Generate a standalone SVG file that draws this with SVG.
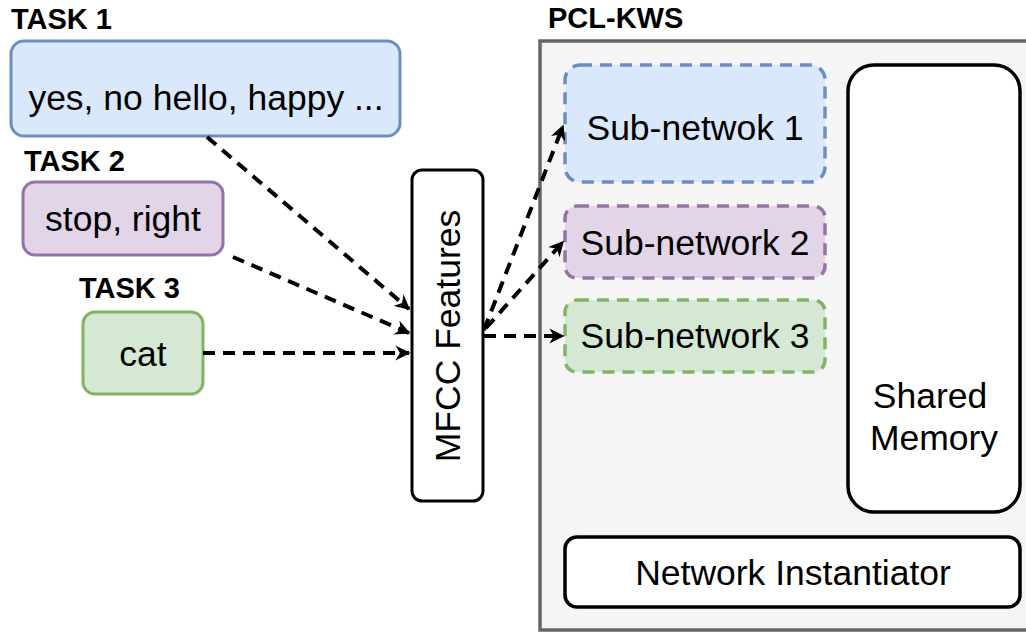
<svg xmlns="http://www.w3.org/2000/svg" width="1026" height="632" viewBox="0 0 1026 632">
<style>
text{font-family:"Liberation Sans",Arial,sans-serif;fill:#000}
.lbl{font-size:35.5px}
.title{font-size:29px;font-weight:bold}
.conn{fill:none;stroke:#000;stroke-width:4;stroke-dasharray:12 8}
.sub{stroke-width:3.5;stroke-dasharray:12 8}
</style>
<defs>
<marker id="arr" viewBox="0 0 10 10" refX="9" refY="5" markerWidth="3.8" markerHeight="3.8" orient="auto" markerUnits="strokeWidth">
<path d="M0,0 L10,5 L0,10 L3,5 Z" fill="#000"/>
</marker>
</defs>
<rect width="1026" height="632" fill="#fff"/>
<g id="pcl-kws">
<rect x="540" y="41" width="500" height="589" fill="#f5f5f5" stroke="#666" stroke-width="3.5"/>
<text class="title" x="548" y="28">PCL-KWS</text>
</g>
<g id="task1">
<text class="title" x="11" y="29">TASK 1</text>
<rect x="11" y="41" width="389" height="95" rx="13" fill="#dae8fc" stroke="#6c8ebf" stroke-width="3"/>
<text class="lbl" x="206" y="110" text-anchor="middle">yes, no hello, happy ...</text>
</g>
<g id="task2">
<text class="title" x="24" y="171">TASK 2</text>
<rect x="23" y="182" width="200" height="73" rx="12" fill="#e1d5e7" stroke="#9673a6" stroke-width="3"/>
<text class="lbl" x="123" y="231" text-anchor="middle">stop, right</text>
</g>
<g id="task3">
<text class="title" x="79" y="298">TASK 3</text>
<rect x="83" y="312" width="120" height="82" rx="12" fill="#d5e8d4" stroke="#82b366" stroke-width="3"/>
<text class="lbl" x="143" y="366" text-anchor="middle">cat</text>
</g>
<g id="mfcc">
<rect x="412" y="170" width="71" height="331" rx="10" fill="#fff" stroke="#000" stroke-width="3"/>
<text class="lbl" transform="translate(460,336) rotate(-90)" text-anchor="middle">MFCC Features</text>
</g>
<g id="sub1">
<rect class="sub" x="565" y="65" width="260" height="117" rx="15" fill="#dae8fc" stroke="#6c8ebf"/>
<text class="lbl" x="695" y="140" text-anchor="middle">Sub-netwok 1</text>
</g>
<g id="sub2">
<rect class="sub" x="565" y="206" width="260" height="72" rx="12" fill="#e1d5e7" stroke="#9673a6"/>
<text class="lbl" x="695" y="255" text-anchor="middle">Sub-network 2</text>
</g>
<g id="sub3">
<rect class="sub" x="565" y="300" width="260" height="72" rx="12" fill="#d5e8d4" stroke="#82b366"/>
<text class="lbl" x="695" y="348" text-anchor="middle">Sub-network 3</text>
</g>
<g id="shared-memory">
<rect x="848" y="65" width="172" height="447" rx="26" fill="#fff" stroke="#000" stroke-width="3.5"/>
<text class="lbl" x="930" y="408" text-anchor="middle">Shared</text>
<text class="lbl" x="934" y="450" text-anchor="middle">Memory</text>
</g>
<g id="network-instantiator">
<rect x="565" y="537" width="455" height="70" rx="12" fill="#fff" stroke="#000" stroke-width="3.5"/>
<text class="lbl" x="793" y="585" text-anchor="middle">Network Instantiator</text>
</g>
<g id="connectors">
<path class="conn" d="M207,137 L409,309" marker-end="url(#arr)"/>
<path class="conn" d="M233,257 L409,333" marker-end="url(#arr)"/>
<path class="conn" d="M203,353 L409,353" marker-end="url(#arr)"/>
<path class="conn" d="M484,330 L563,126" marker-end="url(#arr)"/>
<path class="conn" d="M486,328 L563,242" marker-end="url(#arr)"/>
<path class="conn" d="M484,336 L563,336" marker-end="url(#arr)"/>
</g>
</svg>
